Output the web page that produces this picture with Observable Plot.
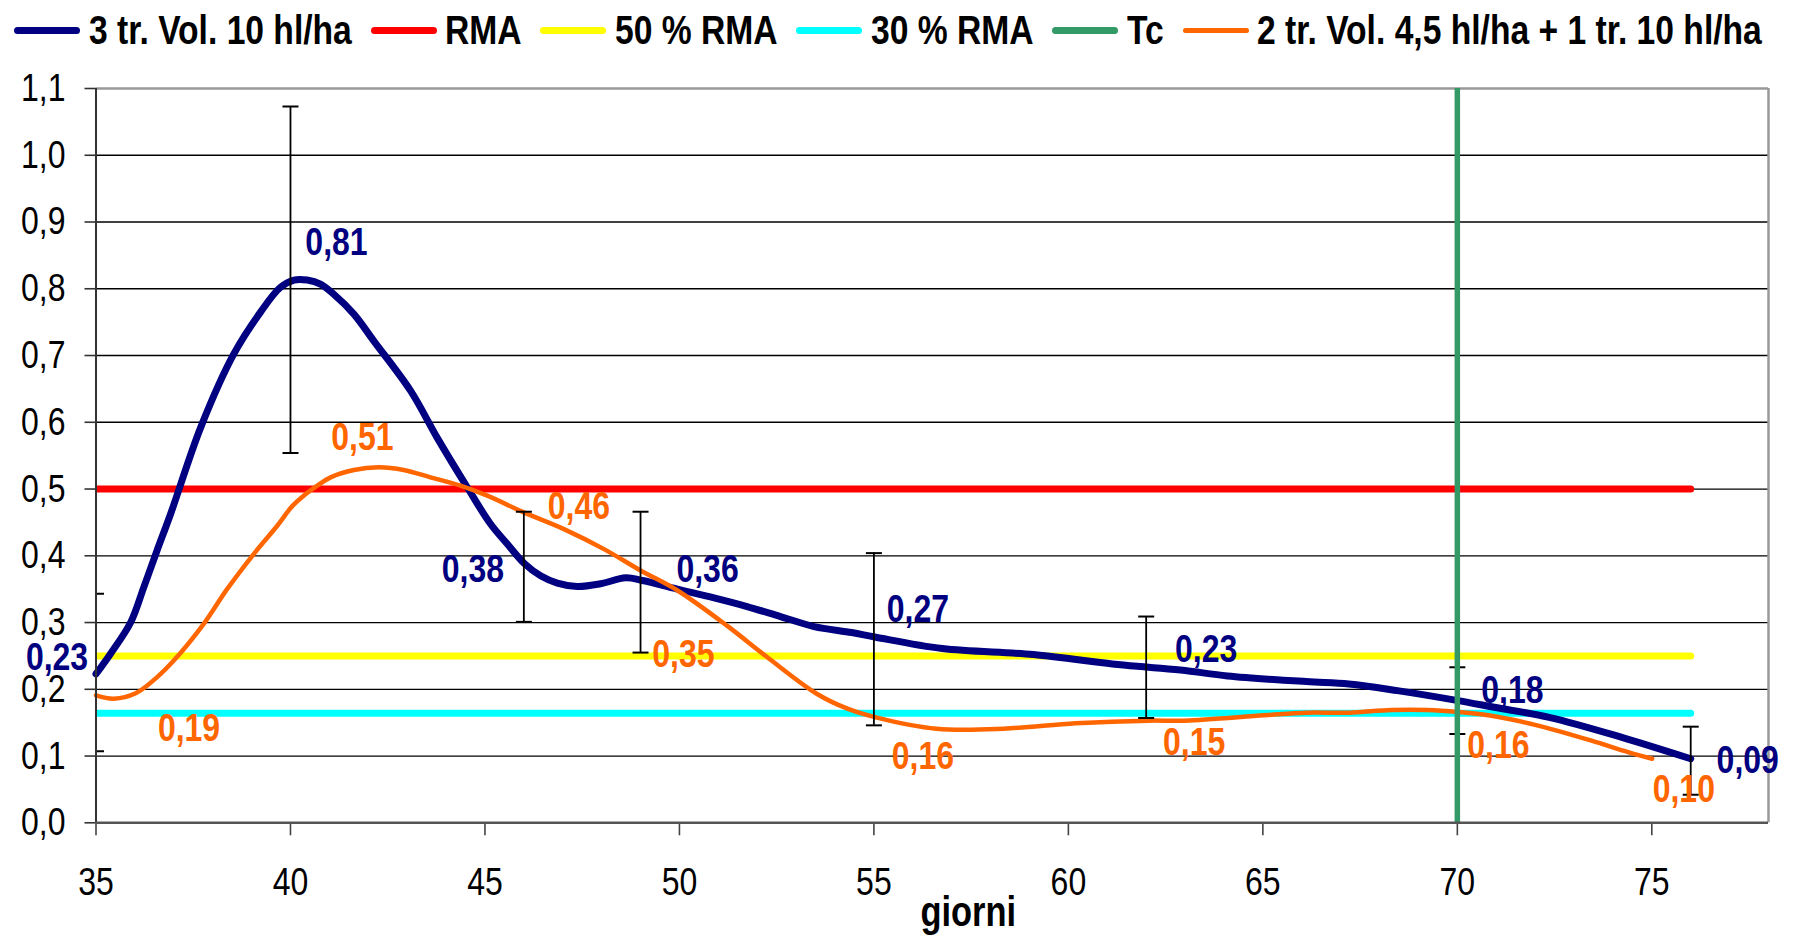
<!DOCTYPE html>
<html>
<head>
<meta charset="utf-8">
<script src="https://cdn.jsdelivr.net/npm/d3@7"></script>
<script src="https://cdn.jsdelivr.net/npm/@observablehq/plot@0.6"></script>
<style>
  html, body { margin: 0; padding: 0; background: #fff; }
  body { width: 1803px; height: 942px; overflow: hidden; font-family: "Liberation Sans", Arial, sans-serif; }
  #legend { height: 58px; display: flex; align-items: center; padding-left: 14px; padding-top: 3px; box-sizing: border-box; }
  .item { display: flex; align-items: center; margin-right: 19px; font-weight: bold; font-size: 41px; color: #000; white-space: nowrap; }
  .sw { width: 66px; border-radius: 4px; margin-right: 8.5px; flex: none; }
  .lw { overflow: visible; flex: none; }
  .lt { display: inline-block; transform: scaleX(0.82); transform-origin: left center; }
</style>
</head>
<body>
<div id="legend"></div>
<div id="chart"></div>
<script>
// ---- data ----
const navyDays = [35, 35.37, 35.89, 36.23, 36.57, 36.92, 37.69, 38.54, 39.23, 39.74, 40.09, 40.43, 40.77, 41.11, 41.63, 42.14, 43.09, 43.77, 44.54, 45.14, 45.57, 46.02, 46.43, 46.86, 47.37, 47.97, 48.62, 49.05, 50.03, 50.89, 51.74, 52.6, 53.46, 54.43, 55.05, 56.76, 59.10, 61.13, 62.06, 63.0, 64.09, 66.12, 67.21, 68.46, 70.02, 70.95, 72.36, 74.23, 76.0];
const navyVals = [0.223, 0.253, 0.300, 0.353, 0.408, 0.463, 0.592, 0.702, 0.765, 0.802, 0.813, 0.813, 0.807, 0.792, 0.762, 0.722, 0.647, 0.577, 0.503, 0.448, 0.418, 0.388, 0.370, 0.359, 0.354, 0.358, 0.367, 0.363, 0.349, 0.337, 0.324, 0.309, 0.294, 0.285, 0.278, 0.261, 0.252, 0.238, 0.233, 0.228, 0.220, 0.2115, 0.208, 0.198, 0.183, 0.173, 0.158, 0.128, 0.096];

const orangeDays = [35, 35.46, 36.02, 36.53, 37.0, 37.77, 38.37, 39.06, 39.66, 40.04, 40.34, 40.69, 41.03, 41.63, 42.27, 42.91, 43.6, 44.37, 45.06, 46.0, 47.03, 48.06, 49.0, 49.95, 51.23, 52.26, 53.54, 54.32, 55.05, 56.61, 58.33, 60.19, 62.06, 63.0, 65.03, 66.12, 67.21, 68.30, 69.24, 70.02, 70.80, 72.05, 73.45, 74.39, 75.01];
const orangeVals = [0.191, 0.186, 0.194, 0.216, 0.243, 0.298, 0.350, 0.403, 0.445, 0.474, 0.490, 0.505, 0.5175, 0.5286, 0.5325, 0.5286, 0.5175, 0.505, 0.490, 0.465, 0.440, 0.410, 0.378, 0.348, 0.295, 0.248, 0.193, 0.171, 0.158, 0.141, 0.141, 0.149, 0.153, 0.153, 0.161, 0.165, 0.165, 0.169, 0.169, 0.166, 0.161, 0.146, 0.123, 0.106, 0.096];

const errDays = [35, 40, 46, 49, 55, 62, 70, 76];
const errLow  = [0.107, 0.554, 0.301, 0.255, 0.146, 0.157, 0.133, 0.042];
const errHigh = [0.343, 1.073, 0.466, 0.466, 0.404, 0.309, 0.233, 0.144];

const navyLabelDays = [35, 40, 46, 49, 55, 62, 70, 76];
const navyLabelVals = [0.23, 0.81, 0.38, 0.36, 0.27, 0.23, 0.18, 0.09];
const orangeLabelDays = [35, 41, 46, 50, 55, 62, 70, 75];
const orangeLabelVals = [0.19, 0.51, 0.46, 0.35, 0.16, 0.15, 0.16, 0.10];

const refDays = [35, 76];
const rmaLevel = 0.5;
const rma50Level = 0.25;
const rma30Level = 0.164;
const tcDay = [70];

const xTicks = [35, 40, 45, 50, 55, 60, 65, 70, 75];
const yTicks = [0, 0.1, 0.2, 0.3, 0.4, 0.5, 0.6, 0.7, 0.8, 0.9, 1.0, 1.1];
const xDomain = [35, 78];
const yDomain = [0, 1.1];

const seriesNames = ["3 tr. Vol. 10 hl/ha", "RMA", "50 % RMA", "30 % RMA", "Tc", "2 tr. Vol. 4,5 hl/ha + 1 tr. 10 hl/ha"];
const xTitle = "giorni";

// ---- styles (not data) ----
const NAVY = "#000080", RED = "#ff0000", YELLOW = "#ffff00", CYAN = "#00ffff", GREEN = "#339966", ORANGE = "#ff6600";
const legendColors = [NAVY, RED, YELLOW, CYAN, GREEN, ORANGE];
const legendThick = [7, 7, 7, 7, 7, 4.5];
const navyOffsets = [[-39, -12], [46, -40], [-51, 0], [67, -13], [44, -33], [60, -20], [55, -12], [57, -2]];
const orangeOffsets = [[93, 33], [33, -45], [55, -9], [4, 65], [49, 41], [48, 20], [41, 30], [32, 33]];
const NARROW = 0.82;
const FONT = '"Liberation Sans", Arial, sans-serif';

// legend
const leg = document.getElementById("legend");
const legendSpans = [];
seriesNames.forEach((name, i) => {
  const it = document.createElement("div");
  it.className = "item";
  const sw = document.createElement("div");
  sw.className = "sw";
  sw.style.background = legendColors[i];
  sw.style.height = legendThick[i] + "px";
  it.appendChild(sw);
  const w = document.createElement("div");
  w.className = "lw";
  const t = document.createElement("span");
  t.className = "lt";
  t.textContent = name;
  w.appendChild(t);
  it.appendChild(w);
  leg.appendChild(it);
  legendSpans.push([w, t]);
});
legendSpans.forEach(([w, t]) => { w.style.width = (t.offsetWidth * NARROW) + "px"; });

// tables
const navy = navyDays.map((d, i) => ({day: d, v: navyVals[i]}));
const orange = orangeDays.map((d, i) => ({day: d, v: orangeVals[i]}));
const errs = errDays.map((d, i) => ({day: d, lo: errLow[i], hi: errHigh[i]}));
const comma = (v, n) => v.toFixed(n).replace(".", ",");

const capSymbol = {
  draw(ctx, size) {
    const r = Math.sqrt(size / Math.PI);
    ctx.moveTo(-r, 0);
    ctx.lineTo(r, 0);
  }
};

const refLine = (level, color) => Plot.line(refDays.map(d => ({day: d, v: level})), {
  x: "day", y: "v", stroke: color, strokeWidth: 7, strokeLinecap: "round", clip: true
});

const labelMarks = [];
navyLabelDays.forEach((d, i) => {
  labelMarks.push(Plot.text([{day: d, v: navyLabelVals[i]}], {
    x: "day", y: "v", text: e => comma(e.v, 2), dx: navyOffsets[i][0], dy: navyOffsets[i][1],
    fill: NAVY, fontWeight: "bold", fontSize: 39, lineAnchor: "middle", textAnchor: "middle"
  }));
});
orangeLabelDays.forEach((d, i) => {
  labelMarks.push(Plot.text([{day: d, v: orangeLabelVals[i]}], {
    x: "day", y: "v", text: e => comma(e.v, 2), dx: orangeOffsets[i][0], dy: orangeOffsets[i][1],
    fill: ORANGE, fontWeight: "bold", fontSize: 39, lineAnchor: "middle", textAnchor: "middle"
  }));
});

const chart = Plot.plot({
  width: 1803,
  height: 884,
  marginLeft: 95.5,
  marginRight: 35,
  marginTop: 30,
  marginBottom: 119.7,
  style: {fontFamily: FONT, fontSize: "39px", color: "#000", background: "#fff"},
  x: {domain: xDomain},
  y: {domain: yDomain},
  marks: [
    Plot.ruleY(yTicks.slice(1, -1), {stroke: "#000", strokeWidth: 1.3}),
    Plot.ruleY([yDomain[1]], {stroke: "#999", strokeWidth: 2.5}),
    Plot.ruleX([xDomain[1]], {stroke: "#999", strokeWidth: 2.5}),
    Plot.axisY({ticks: yTicks, tickFormat: d => comma(d, 1), tickSize: 11, tickPadding: 19.5, fontSize: 39, stroke: "#333", strokeWidth: 1.6, label: null}),
    Plot.axisX({ticks: xTicks, tickFormat: d => String(d), tickSize: 13, tickPadding: 31, fontSize: 39, stroke: "#444", strokeWidth: 1.6, label: null}),
    refLine(rmaLevel, RED),
    refLine(rma50Level, YELLOW),
    refLine(rma30Level, CYAN),
    Plot.line(navy, {x: "day", y: "v", stroke: NAVY, strokeWidth: 7, curve: "catmull-rom"}),
    Plot.line(orange, {x: "day", y: "v", stroke: ORANGE, strokeWidth: 4.5, curve: "catmull-rom"}),
    Plot.ruleX(errs, {x: "day", y1: "lo", y2: "hi", stroke: "#000", strokeWidth: 1.8}),
    Plot.dot(errs, {x: "day", y: "lo", symbol: capSymbol, r: 8, stroke: "#000", strokeWidth: 2, clip: true}),
    Plot.dot(errs, {x: "day", y: "hi", symbol: capSymbol, r: 8, stroke: "#000", strokeWidth: 2, clip: true}),
    Plot.ruleX(tcDay, {stroke: GREEN, strokeWidth: 5.5}),
    Plot.ruleX([xDomain[0]], {stroke: "#333", strokeWidth: 2}),
    Plot.ruleY([yDomain[0]], {stroke: "#555", strokeWidth: 2.5}),
    ...labelMarks,
    Plot.text([xTitle], {frameAnchor: "bottom", text: d => d, dx: 36, dy: 103, lineAnchor: "bottom", fontWeight: "bold", fontSize: 42, fill: "#000"})
  ]
});
document.getElementById("chart").appendChild(chart);

// condense every text horizontally (Arial Narrow look), keeping its anchor point
chart.querySelectorAll("text").forEach(t => {
  const L = t.getComputedTextLength();
  if (L > 0) {
    t.setAttribute("textLength", (L * NARROW).toFixed(2));
    t.setAttribute("lengthAdjust", "spacingAndGlyphs");
  }
});
</script>
</body>
</html>
